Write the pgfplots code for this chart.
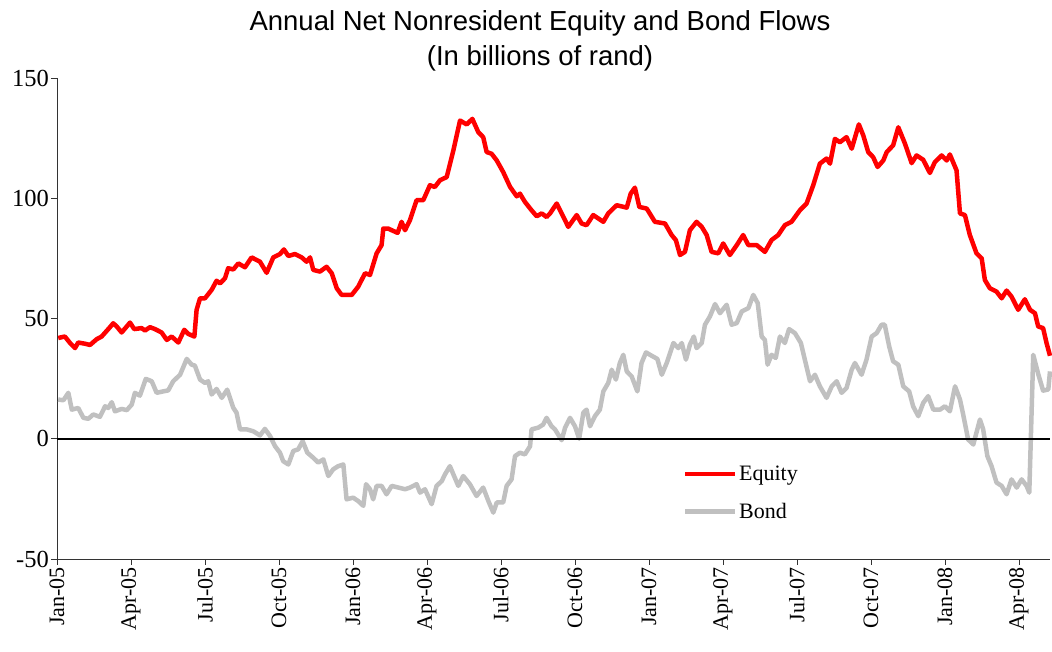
\documentclass[border=0pt]{standalone}
\usepackage{pgfplots}
\pgfplotsset{compat=1.18}
\usepackage{pgfplotstable}
\usepackage{fontspec}
\setmainfont{Liberation Serif}
\newfontfamily\titlefont{Liberation Sans}
\definecolor{eqred}{RGB}{255,0,0}
\definecolor{bondgray}{RGB}{192,192,192}

\pgfplotstableread{
m v
0.05 41.9
0.32 42.5
0.53 39.8
0.73 37.7
0.86 40
1.14 39.5
1.34 39
1.61 41.4
1.81 42.5
2.08 45.6
2.28 48
2.42 46.7
2.62 44.2
2.83 46.7
2.96 48.3
3.13 45.6
3.43 46
3.57 45
3.77 46.4
3.97 45.6
4.24 44.2
4.45 41.1
4.65 42.5
4.92 40
5.16 45.3
5.32 43.6
5.57 42.5
5.66 53.6
5.80 58.4
6.00 58.4
6.27 61.9
6.47 65.7
6.61 64.6
6.81 66.7
6.94 70.9
7.15 70.4
7.35 72.9
7.62 71.3
7.89 75.4
8.23 73.6
8.50 69
8.77 75.4
9.04 76.8
9.20 78.7
9.38 76
9.65 76.8
9.92 75.4
10.12 73.6
10.26 75.4
10.39 70.2
10.66 69.5
10.93 71.5
11.14 68.8
11.34 62.6
11.54 59.8
11.95 59.8
12.21 63.2
12.49 68.8
12.69 68.1
12.96 77.1
13.16 80.5
13.23 87.4
13.43 87.4
13.57 86.7
13.81 85.6
13.97 90.2
14.11 86.7
14.31 90.9
14.58 99.2
14.85 99.2
15.12 105.4
15.32 104.7
15.53 107.5
15.80 108.8
16.07 119.9
16.34 132.3
16.61 130.7
16.84 133
17.08 127.5
17.28 125.4
17.42 119.2
17.62 118.5
17.83 115.7
18.09 110.9
18.37 104.7
18.64 100.8
18.77 101.9
18.97 98.5
19.24 95
19.45 92.5
19.65 93.7
19.85 92.2
19.99 93.7
20.26 97.8
20.46 93.7
20.73 88.1
21.07 93
21.27 89.5
21.47 88.8
21.74 93
22.15 90.2
22.35 93.7
22.69 97.1
23.10 96.1
23.26 101.9
23.43 104.4
23.61 96.4
23.91 95.7
24.24 90.2
24.65 89.5
24.92 84.7
25.09 82.6
25.26 76.4
25.46 77.7
25.66 86.7
25.93 90.2
26.14 88.1
26.34 84.7
26.54 77.7
26.81 77.1
27.01 81.2
27.28 76.4
27.56 80.5
27.82 84.7
28.03 80.5
28.37 80.5
28.70 77.7
28.97 82.6
29.24 84.7
29.51 88.8
29.78 90.2
30.12 95
30.39 97.8
30.66 105.4
30.93 114.4
31.20 116.5
31.34 114.4
31.54 124.7
31.74 123.3
32.01 125.4
32.22 120.6
32.51 130.7
32.69 126.1
32.89 119.2
33.09 117.1
33.27 113
33.50 115.7
33.64 119.2
33.90 122
34.11 129.5
34.38 122.7
34.65 114.6
34.85 117.8
35.12 116
35.39 110.5
35.59 115
35.87 117.8
36.07 115.7
36.20 118.2
36.47 111.6
36.61 93.7
36.81 93
37.01 84.7
37.28 77.1
37.49 75
37.62 66
37.82 62.6
38.09 61.2
38.30 58.4
38.50 61.6
38.70 59.1
38.97 53.6
39.24 58
39.45 53.6
39.65 52.2
39.78 46.7
39.98 46
40.12 39.8
40.26 34.5
}\equitydata

\pgfplotstableread{
m v
0.05 16.3
0.26 16
0.46 19.1
0.60 12.1
0.86 12.8
1.07 8.7
1.27 8.3
1.47 10.1
1.74 9.1
1.95 13.5
2.08 12.8
2.22 15.2
2.35 11.4
2.62 12.4
2.83 11.9
3.03 14.2
3.16 19.1
3.36 17.9
3.60 24.9
3.84 23.9
4.04 19.1
4.31 19.7
4.51 20.1
4.71 23.9
4.99 26.6
5.26 33.2
5.46 30.8
5.59 30.4
5.80 24.6
6.00 23.2
6.13 23.9
6.27 18.4
6.47 20.7
6.68 17
6.90 20.4
7.15 12.8
7.28 10.8
7.42 3.9
7.69 3.9
7.96 3.1
8.23 1.4
8.43 4.1
8.64 1.1
8.84 -3.1
9.04 -5.8
9.17 -9.3
9.38 -10.7
9.58 -5.1
9.78 -4.4
9.96 -1
10.15 -5.8
10.39 -7.9
10.59 -9.9
10.80 -8.6
11.00 -15.5
11.20 -12.7
11.40 -11.4
11.61 -10.7
11.74 -25.2
12.01 -24.5
12.21 -25.9
12.42 -27.9
12.53 -18.9
12.69 -21
12.82 -25.2
12.96 -19.6
13.16 -19.6
13.36 -23.1
13.57 -19.6
13.84 -20.3
14.11 -21
14.31 -20.3
14.58 -18.9
14.72 -22.4
14.92 -21
15.19 -27.2
15.39 -19.6
15.60 -17.6
15.73 -14.8
15.93 -11.4
16.07 -14.8
16.27 -19.6
16.47 -15.5
16.74 -18.9
17.01 -23.8
17.28 -20.3
17.49 -25.9
17.69 -30.7
17.83 -26.5
18.09 -26.5
18.23 -19.6
18.43 -16.9
18.57 -7.2
18.77 -5.8
18.97 -6.5
19.18 -3.1
19.24 3.9
19.51 4.6
19.71 5.9
19.85 8.7
20.05 5.2
20.19 3.9
20.46 -0.6
20.60 4.6
20.80 8.7
21.00 5.2
21.17 0
21.34 10.8
21.47 12.1
21.61 5.2
21.81 9.4
22.01 12.1
22.15 19.7
22.35 23.2
22.49 28.7
22.66 24.6
22.82 31.5
22.96 34.9
23.10 28
23.30 25.9
23.53 19.7
23.70 31.5
23.88 35.9
24.11 34.5
24.34 33.2
24.52 26.6
24.72 31.5
24.99 39.8
25.19 37.7
25.33 39.8
25.50 32.9
25.66 39.1
25.82 42.5
25.93 37.7
26.14 39.8
26.27 47.4
26.47 50.8
26.68 56
26.88 52.2
27.15 55.7
27.35 47.4
27.56 48.1
27.76 52.9
28.03 54.3
28.23 59.8
28.41 56.4
28.57 42.5
28.70 41.1
28.81 30.8
28.97 34.9
29.14 33.6
29.31 42.5
29.51 39.8
29.68 45.6
29.92 43.9
30.16 39.8
30.32 32.9
30.53 23.9
30.73 26.6
30.93 21.8
31.20 17
31.41 21.8
31.61 23.9
31.81 19.1
32.01 21.1
32.22 28.7
32.35 31.5
32.62 26.6
32.82 32.9
33.03 42.5
33.23 43.9
33.43 47.4
33.56 47.4
33.74 38.4
33.90 32.2
34.11 30.8
34.31 21.8
34.55 19.7
34.71 13.5
34.92 9.4
35.12 14.9
35.32 17.7
35.53 12.1
35.80 12.1
36.00 13.5
36.20 11.4
36.41 21.8
36.61 16.3
36.74 10.1
36.94 -0.3
37.15 -2.4
37.42 8
37.55 3.9
37.72 -7.2
37.89 -11.4
38.09 -18.2
38.30 -19.6
38.50 -23.1
38.70 -16.9
38.91 -20.3
39.11 -16.9
39.31 -19.6
39.42 -22.4
39.58 34.9
39.78 27
39.98 20
40.19 20.5
40.26 28
}\bonddata

\begin{document}
\begin{tikzpicture}
\begin{axis}[
  scale only axis,
  width=993pt, height=481pt,
  xmin=0, xmax=40.26,
  ymin=-50, ymax=150,
  axis lines*=left,
  axis line style={line width=0.8pt, black!80},
  tick style={line width=0.8pt, black!80},
  tick align=outside,
  major tick length=6pt,
  xtick={0,3,6,9,12,15,18,21,24,27,30,33,36,39},
  xticklabels={Jan-05,Apr-05,Jul-05,Oct-05,Jan-06,Apr-06,Jul-06,Oct-06,Jan-07,Apr-07,Jul-07,Oct-07,Jan-08,Apr-08},
  xticklabel style={rotate=90, anchor=east, font=\fontsize{22}{26}\selectfont, inner sep=2pt},
  ytick={-50,0,50,100,150},
  yticklabel style={font=\fontsize{24.5}{28}\selectfont, inner sep=2pt},
  /pgf/number format/assume math mode=true,
  title={Annual Net Nonresident Equity and Bond Flows\\(In billions of rand)},
  title style={at={(0.4864,1)}, anchor=south, align=center, font=\titlefont\fontsize{27.5}{35}\selectfont, yshift=-3pt},
  legend style={at={(0.627,0.2017)}, anchor=north west, draw=none, fill=none,
    font=\fontsize{22}{26}\selectfont, row sep=17pt},
  legend cell align=left,
  legend image code/.code={\draw[#1] (0cm,0cm) -- (1.75cm,0cm);},
  clip=false,
]
\addplot[eqred, line width=4.5pt, line join=round] table[x=m, y=v] {\equitydata};
\addlegendentry{Equity}
\addplot[bondgray, line width=4.5pt, line join=round] table[x=m, y=v] {\bonddata};
\addlegendentry{Bond}
\addplot[black, line width=1.8pt, forget plot] coordinates {(0,0) (40.26,0)};
\end{axis}
\pgfresetboundingbox
\path ([xshift=-57pt,yshift=-93pt]current axis.south west) rectangle ([xshift=2pt,yshift=78pt]current axis.north east);
\end{tikzpicture}
\end{document}
